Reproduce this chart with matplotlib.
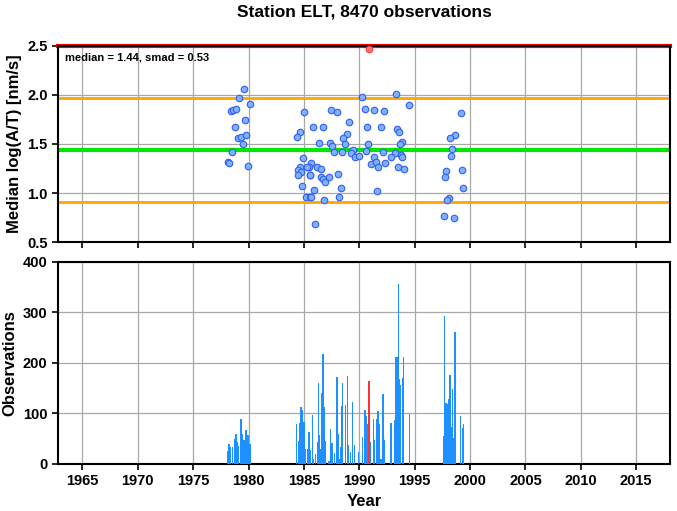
import matplotlib
matplotlib.use('Agg')
import matplotlib.pyplot as plt
import numpy as np

plt.rcParams['font.family'] = ['Liberation Sans', 'DejaVu Sans']
plt.rcParams['font.weight'] = 'bold'

station = 'ELT'
n_obs = 8470
median = 1.44
smad = 0.53

# median log(A/T) per interval (year, value)
pt_year = [1979.59, 1979.11, 1980.14, 1978.42, 1978.56, 1978.84, 1979.68, 1978.75,
           1979.02, 1979.35, 1979.77, 1979.50, 1978.51, 1978.15, 1978.27, 1979.98,
           1985.04, 1984.61, 1984.34, 1984.92, 1984.68, 1984.47, 1984.77, 1984.43,
           1985.37, 1985.51, 1984.83, 1985.19, 1985.51,
           1990.24, 1993.31, 1994.51, 1987.47, 1988.01, 1990.54, 1991.29, 1992.23,
           1989.10, 1985.79, 1986.72, 1990.72, 1991.96, 1993.40, 1993.58, 1988.92,
           1988.49, 1988.74, 1986.39, 1987.36, 1987.56, 1990.78, 1993.88, 1993.64,
           1987.74, 1988.40, 1989.43, 1989.25, 1989.61, 1989.94, 1990.60, 1992.13,
           1993.25, 1991.35, 1992.89, 1993.73, 1993.85, 1991.02, 1991.53, 1991.71,
           1992.32, 1993.49, 1994.03, 1985.67, 1985.42, 1985.28, 1986.21, 1986.51,
           1985.58, 1986.54, 1986.69, 1986.90, 1987.27, 1988.10, 1985.88, 1988.35,
           1991.62, 1985.64, 1986.81, 1988.17, 1986.03,
           1999.14, 1998.64, 1998.18, 1998.39, 1998.30, 1997.82, 1997.73, 1999.30,
           1999.39, 1998.09, 1997.88, 1997.61, 1998.55]
pt_value = [2.058, 1.972, 1.905, 1.840, 1.850, 1.857, 1.742, 1.677,
            1.564, 1.574, 1.592, 1.500, 1.418, 1.319, 1.309, 1.276,
            1.823, 1.626, 1.574, 1.354, 1.268, 1.235, 1.217, 1.184,
            1.268, 1.184, 1.071, 0.962, 0.962,
            1.983, 2.007, 1.898, 1.847, 1.823, 1.860, 1.844, 1.837,
            1.728, 1.677, 1.677, 1.677, 1.677, 1.650, 1.622, 1.599,
            1.561, 1.500, 1.510, 1.507, 1.483, 1.497, 1.524, 1.500,
            1.421, 1.421, 1.442, 1.405, 1.371, 1.378, 1.429, 1.421,
            1.408, 1.364, 1.371, 1.388, 1.371, 1.299, 1.316, 1.265,
            1.303, 1.265, 1.248, 1.303, 1.268, 1.265, 1.268, 1.242,
            1.180, 1.167, 1.140, 1.115, 1.167, 1.190, 1.027, 1.054,
            1.024, 0.959, 0.932, 0.959, 0.681,
            1.813, 1.589, 1.561, 1.449, 1.381, 1.221, 1.160, 1.238,
            1.048, 0.946, 0.929, 0.765, 0.745]
outlier_year = [1990.84]
outlier_value = [2.469]

# observations per interval
bar_year = [1978.11, 1978.24, 1978.36, 1978.54, 1978.75, 1978.87, 1979.02, 1979.11,
            1979.32, 1979.47, 1979.59, 1979.77, 1979.95, 1980.14,
            1984.34, 1984.56, 1984.65, 1984.74, 1984.86, 1985.01, 1985.15, 1985.33,
            1985.46, 1985.58, 1985.76, 1985.88, 1986.06, 1986.21, 1986.30, 1986.39,
            1986.54, 1986.63, 1986.72, 1986.84, 1986.90, 1987.27, 1987.38, 1987.54,
            1987.74, 1987.99, 1988.08, 1988.19, 1988.31, 1988.40, 1988.49, 1988.76,
            1988.92, 1989.01, 1989.21, 1989.40, 1989.58, 1989.94, 1990.27, 1990.51,
            1990.63, 1990.69, 1991.02, 1991.26, 1991.35, 1991.53, 1991.69, 1991.78,
            1991.96, 1992.14, 1992.28, 1992.86, 1993.19, 1993.31, 1993.40, 1993.55,
            1993.64, 1993.73, 1993.88, 1994.00, 1994.51,
            1997.58, 1997.67, 1997.82, 1997.92, 1998.06, 1998.19, 1998.28, 1998.39,
            1998.55, 1998.64, 1999.14, 1999.30, 1999.42]
bar_count = [26, 39, 33, 33, 49, 59, 43, 36,
             90, 59, 48, 67, 57, 40,
             79, 46, 82, 113, 106, 83, 30, 30,
             63, 28, 97, 9, 19, 44, 160, 57,
             30, 140, 218, 113, 45, 6, 69, 42,
             21, 172, 59, 9, 34, 115, 161, 117,
             174, 38, 24, 123, 38, 24, 54, 106,
             95, 79, 43, 89, 48, 90, 104, 79,
             10, 139, 48, 81, 87, 211, 211, 356,
             169, 156, 171, 211, 98,
             55, 294, 121, 118, 128, 176, 74, 148,
             51, 261, 95, 72, 79]
outlier_bar_year = [1990.88]
outlier_bar_count = [164]

fig = plt.figure(figsize=(6.77, 5.11), dpi=100)
ax1 = fig.add_axes([0.0857, 0.5264, 0.904, 0.3836])
ax2 = fig.add_axes([0.0857, 0.092, 0.904, 0.3953])

xmin, xmax = 1962.8, 2018.05
xticks = np.arange(1965, 2016, 5)

for ax in (ax1, ax2):
    ax.set_xlim(xmin, xmax)
    ax.set_xticks(xticks)
    ax.grid(True, color='#a8a8a8', linewidth=0.9)
    ax.set_axisbelow(True)
    for s in ax.spines.values():
        s.set_linewidth(1.5)
    ax.tick_params(direction='out', length=4, width=1.2, labelsize=10.5)

# top panel
ax1.set_ylim(0.5, 2.5)
ax1.set_yticks([0.5, 1.0, 1.5, 2.0, 2.5])
ax1.set_yticklabels(['0.5', '1.0', '1.5', '2.0', '2.5'])
ax1.tick_params(labelbottom=False)
ax1.axhline(median, color='#00e600', linewidth=3, zorder=2)
ax1.axhline(median + smad, color='#ffa500', linewidth=2, zorder=2)
ax1.axhline(median - smad, color='#ffa500', linewidth=2, zorder=2)
ax1.axhline(median + 2 * smad, color='#ff0000', linewidth=3, zorder=2, clip_on=False)
ax1.scatter(pt_year, pt_value, s=22, facecolor='#80b0ff', edgecolor='#3060f0',
            linewidth=0.8, zorder=3)
ax1.scatter(outlier_year, outlier_value, s=22, facecolor='#ff7070', edgecolor='#ff4040',
            linewidth=0.8, zorder=3)
ax1.text(0.012, 0.965, 'median = %.2f, smad = %.2f' % (median, smad),
         transform=ax1.transAxes, fontsize=8, fontweight='bold', va='top', ha='left')
ax1.set_ylabel('Median log(A/T) [nm/s]', fontsize=12, fontweight='bold')
ax1.set_title('Station %s, %d observations' % (station, n_obs), fontsize=12.5,
              fontweight='bold', pad=21)

# bottom panel
ax2.set_ylim(0, 400)
ax2.set_yticks([0, 100, 200, 300, 400])
ax2.bar(bar_year, bar_count, width=0.12, color='#1e90ff', edgecolor='none', zorder=3)
ax2.bar(outlier_bar_year, outlier_bar_count, width=0.16, color='#ff3030',
        edgecolor='none', zorder=4)
ax2.set_ylabel('Observations', fontsize=12, fontweight='bold')
ax2.set_xlabel('Year', fontsize=12, fontweight='bold')

fig.align_ylabels([ax1, ax2])
fig.savefig('out.png', dpi=100)
